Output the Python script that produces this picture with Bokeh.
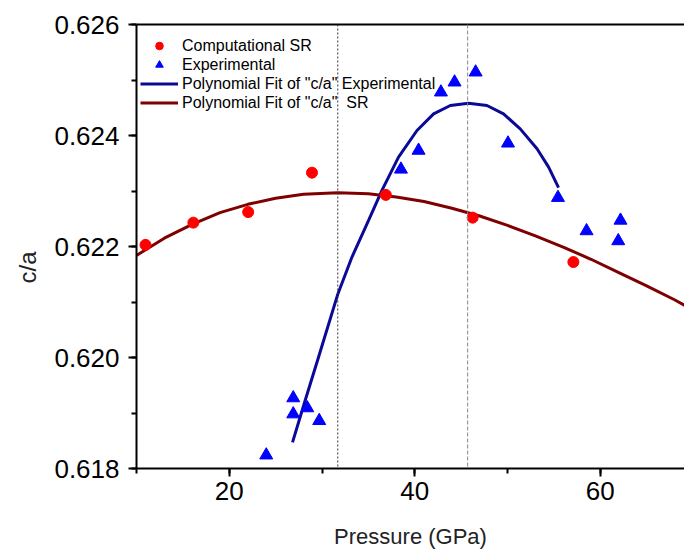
import math
from bokeh.plotting import figure
from bokeh.models import (Range1d, SingleIntervalTicker, FixedTicker, LinearAxis, Span,
                          Legend, LegendItem, Title, PrintfTickFormatter)
from bokeh.embed import file_html
from bokeh.resources import INLINE

# ---- data ----
sr_pressure = [10.97, 16.13, 22.04, 28.92, 36.88, 46.24, 57.10]
sr_ca = [0.62203, 0.62243, 0.62262, 0.62333, 0.62293, 0.62252, 0.62172]

exp_pressure = [23.99, 26.90, 26.90, 28.41, 29.70, 38.51, 40.41, 42.82, 44.29,
                46.56, 50.05, 55.44, 58.52, 61.94, 62.18]
exp_ca = [0.61824, 0.61927, 0.61898, 0.61909, 0.61886, 0.62339, 0.62373, 0.62478,
          0.62496, 0.62514, 0.62386, 0.62288, 0.62228, 0.62210, 0.62247]

fit_exp_pressure = [26.82, 28.19, 29.63, 31.72, 33.23, 35.02, 36.46, 38.25, 40.24,
                    42.03, 43.83, 45.80, 47.78, 49.57, 51.37, 53.18, 54.43, 55.50]
fit_exp_ca = [0.61847, 0.61923, 0.62001, 0.62115, 0.62181, 0.62247, 0.62301, 0.62361,
              0.62409, 0.62439, 0.62454, 0.62458, 0.62454, 0.62439, 0.62412, 0.62376,
              0.62343, 0.62306]

fit_sr_pressure = [10, 13, 16, 19, 22, 25, 28, 31.7, 35, 38, 41, 44, 47, 50, 53,
                   56, 59, 62, 65, 68, 69.1]
fit_sr_ca = [0.62184, 0.62215, 0.62240, 0.62261, 0.62276, 0.62287, 0.62294, 0.62297,
             0.62295, 0.62289, 0.62281, 0.62269, 0.62255, 0.62238, 0.62219, 0.62199,
             0.62177, 0.62153, 0.62129, 0.62104, 0.62094]

peak_lines = [31.7, 45.7]

x_label = "Pressure (GPa)"
y_label = "c/a"
legend_labels = ["Computational SR", "Experimental",
                 'Polynomial Fit of "c/a" Experimental',
                 'Polynomial Fit of "c/a"  SR']

FONT = "Liberation Sans"

p = figure(width=684, height=554, output_backend="svg", toolbar_location=None,
           x_range=Range1d(10, 69.08), y_range=Range1d(0.618, 0.626),
           min_border_left=136, min_border_right=0, min_border_top=24,
           min_border_bottom=86, background_fill_color="white",
           border_fill_color="white")
p.outline_line_color = None
p.xgrid.visible = False
p.ygrid.visible = False

# axes styling
xa = p.xaxis[0]
xa.ticker = SingleIntervalTicker(interval=20, num_minor_ticks=2)
ya = p.yaxis[0]
ya.ticker = SingleIntervalTicker(interval=0.002, num_minor_ticks=2)
ya.formatter = PrintfTickFormatter(format="%.3f")
for ax in (xa, ya):
    ax.axis_line_width = 2
    ax.axis_line_color = "black"
    ax.major_tick_line_width = 2
    ax.minor_tick_line_width = 2
    ax.major_tick_line_color = "black"
    ax.minor_tick_line_color = "black"
    ax.major_tick_in = 0
    ax.minor_tick_in = 0
    ax.major_tick_out = 8
    ax.minor_tick_out = 5
    ax.major_label_text_font = FONT
    ax.major_label_text_font_size = "26px"
    ax.major_label_text_color = "black"
ya.major_label_standoff = 9
xa.major_label_standoff = 5
xa.axis_label = x_label
xa.axis_label_text_font = FONT
xa.axis_label_text_font_size = "22px"
xa.axis_label_text_font_style = "normal"
xa.axis_label_text_color = "#222222"
xa.axis_label_standoff = 21

top_axis = LinearAxis(axis_line_width=2, axis_line_color="black",
                      ticker=FixedTicker(ticks=[], minor_ticks=[]),
                      major_tick_line_color=None, minor_tick_line_color=None)
p.add_layout(top_axis, "above")

# y axis title placed like the reference (slightly below the frame centre)
p.add_layout(Title(text=y_label, align="left", offset=185, standoff=22,
                   text_font=FONT, text_font_size="24px", text_font_style="normal",
                   text_color="#222222"), "left")

# reference lines at the maxima
p.add_layout(Span(location=peak_lines[0], dimension="height", line_color="#333333",
                  line_width=1, line_dash="2 2"))
p.add_layout(Span(location=peak_lines[1], dimension="height", line_color="#888888",
                  line_width=1, line_dash="4 2"))

# fits
r_fit_exp = p.line(fit_exp_pressure, fit_exp_ca, line_color="#0a0a96", line_width=3)
r_fit_sr = p.line(fit_sr_pressure, fit_sr_ca, line_color="#7f0000", line_width=3)

# points
r_sr = p.scatter(sr_pressure, sr_ca, marker="circle", size=11,
                 fill_color="#ff0000", line_color="#ff0000")
r_exp = p.scatter(exp_pressure, exp_ca, marker="triangle", size=13,
                  fill_color="#0000ff", line_color="#0000ff")

legend = Legend(items=[
    LegendItem(label=legend_labels[0], renderers=[r_sr]),
    LegendItem(label=legend_labels[1], renderers=[r_exp]),
    LegendItem(label=legend_labels[2], renderers=[r_fit_exp]),
    LegendItem(label=legend_labels[3], renderers=[r_fit_sr]),
], location=(4, 356), border_line_color=None, background_fill_alpha=0,
    label_text_font=FONT, label_text_font_size="16px", label_text_color="black",
    glyph_width=38, glyph_height=19, label_height=19, spacing=0, padding=4,
    margin=0, label_standoff=4)
p.add_layout(legend)

open("out.html", "w").write(file_html(p, INLINE))
